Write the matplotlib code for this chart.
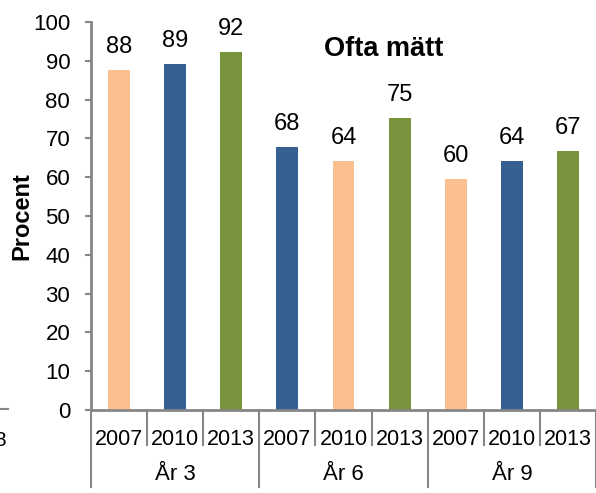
import matplotlib.pyplot as plt
from matplotlib.lines import Line2D
import matplotlib.transforms as mtransforms

plt.rcParams['font.family'] = ['Liberation Sans', 'DejaVu Sans']

# data
groups = ['År 3', 'År 6', 'År 9']
years = ['2007', '2010', '2013']
values = [87.6, 89.1, 92.3, 67.8, 64.3, 75.2, 59.6, 64.3, 66.8]
labels = ['88', '89', '92', '68', '64', '75', '60', '64', '67']

peach = '#FAC090'
blue = '#376092'
green = '#77933C'
bar_colors = [peach, blue, green, blue, peach, green, peach, blue, green]

grey = '#868686'


def main():
    fig = plt.figure(figsize=(5.96, 4.93), dpi=100)
    W, H = 596, 493
    left, right, top, bottom = 91, 596, 22, 410
    ax = fig.add_axes([left / W, (H - bottom) / H, (right - left) / W, (bottom - top) / H])

    x = list(range(len(values)))
    ax.bar(x, values, width=0.39, color=bar_colors, zorder=2)

    for xi, v, lab in zip(x, values, labels):
        ax.annotate(lab, (xi, v), xytext=(0, 8.5), textcoords='offset points',
                    ha='center', va='bottom', fontsize=17)

    ax.set_xlim(-0.5, len(values) - 0.5)
    ax.set_ylim(0, 100)
    ax.set_yticks(range(0, 101, 10))
    ax.tick_params(axis='y', direction='out', length=4, width=1.5, color=grey,
                   labelsize=16, pad=11)

    ax.set_xticks(x)
    ax.set_xticklabels(years * len(groups), fontsize=15.5)
    ax.tick_params(axis='x', length=0, pad=14)

    for s in ['top', 'right']:
        ax.spines[s].set_visible(False)
    ax.spines['left'].set_color(grey)
    ax.spines['left'].set_linewidth(2)
    ax.spines['bottom'].set_color(grey)
    ax.spines['bottom'].set_linewidth(2)

    # category separators below the axis
    trans = mtransforms.blended_transform_factory(ax.transData, ax.transAxes)
    short_y = -35 / (bottom - top)
    long_y = -77 / (bottom - top)
    for i in range(len(values) + 1):
        xs = i - 0.5
        y_end = long_y if i % 3 == 0 else short_y
        ax.plot([xs, xs], [0, y_end], color=grey, lw=1.5, transform=trans, clip_on=False)

    for g, name in enumerate(groups):
        ax.text(g * 3 + 1, -65 / (bottom - top), name, transform=trans,
                ha='center', va='center', fontsize=16)

    fig.text(22 / W, 1 - 216 / H, 'Procent', rotation=90, ha='center', va='center',
             fontsize=17, fontweight='bold')

    fig.text(384 / W, 1 - 49 / H, 'Ofta mätt', ha='center', va='center',
             fontsize=19.5, fontweight='bold')

    # stray pieces at the left edge of the reference crop
    fig.add_artist(Line2D([0, 8 / W], [1 - 409 / H, 1 - 409 / H], color=grey, lw=1.5))
    fig.text(0, 1 - 441 / H, '8', ha='center', va='center', fontsize=15)

    fig.savefig('out.png', dpi=100)


if __name__ == '__main__':
    main()
